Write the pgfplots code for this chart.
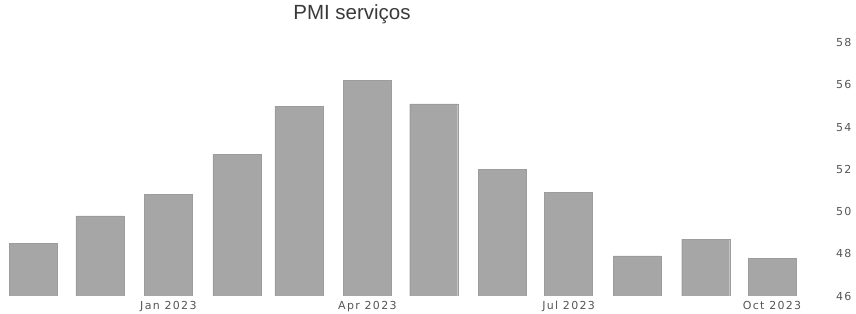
\documentclass[border=0pt]{standalone}
\usepackage{pgfplots}
\pgfplotsset{compat=1.18}
\usepackage{fontspec}
\setmainfont{DejaVu Sans}
\newfontfamily\tickfont[LetterSpace=12]{DejaVu Sans}
\newfontfamily\titlefont{Liberation Sans}
\definecolor{barfill}{HTML}{A6A6A6}
\definecolor{baredge}{HTML}{9C9C9C}
\definecolor{ticktext}{HTML}{555555}
\definecolor{titletext}{HTML}{3A3A3A}
\begin{document}
\begin{tikzpicture}
\path[use as bounding box] (0,0) rectangle (856pt,313pt);
\begin{axis}[
  at={(0pt,17pt)}, anchor=south west,
  scale only axis,
  width=833.5pt, height=253.3pt,
  xmin=-15.15, xmax=361.8,
  ymin=46, ymax=58,
  ytick={46,48,...,58},
  yticklabel pos=right,
  xtick={61,151,242,334},
  xticklabels={Jan 2023,Apr 2023,Jul 2023,Oct 2023},
  axis line style={draw=none},
  tick style={draw=none},
  /pgf/number format/assume math mode=true,
  tick label style={font=\tickfont\fontsize{11pt}{12pt}\selectfont, text=ticktext},
  yticklabel style={xshift=-1pt},
  xticklabel style={yshift=-1.5pt},
  title={PMI serviços},
  title style={at={(0.4223,1)}, anchor=base, yshift=16.7pt, font=\titlefont\fontsize{20.5pt}{23pt}\selectfont, text=titletext},
  clip=true,
]
\addplot[ybar, bar width=48pt, fill=barfill, draw=baredge, line width=0.4pt] coordinates {
(0,48.5) (30,49.8) (61,50.8) (92,52.7) (120,55.0) (151,56.2)
(181,55.1) (212,52.0) (242,50.9) (273,47.9) (304,48.7) (334,47.8)
};
\end{axis}
\end{tikzpicture}
\end{document}
